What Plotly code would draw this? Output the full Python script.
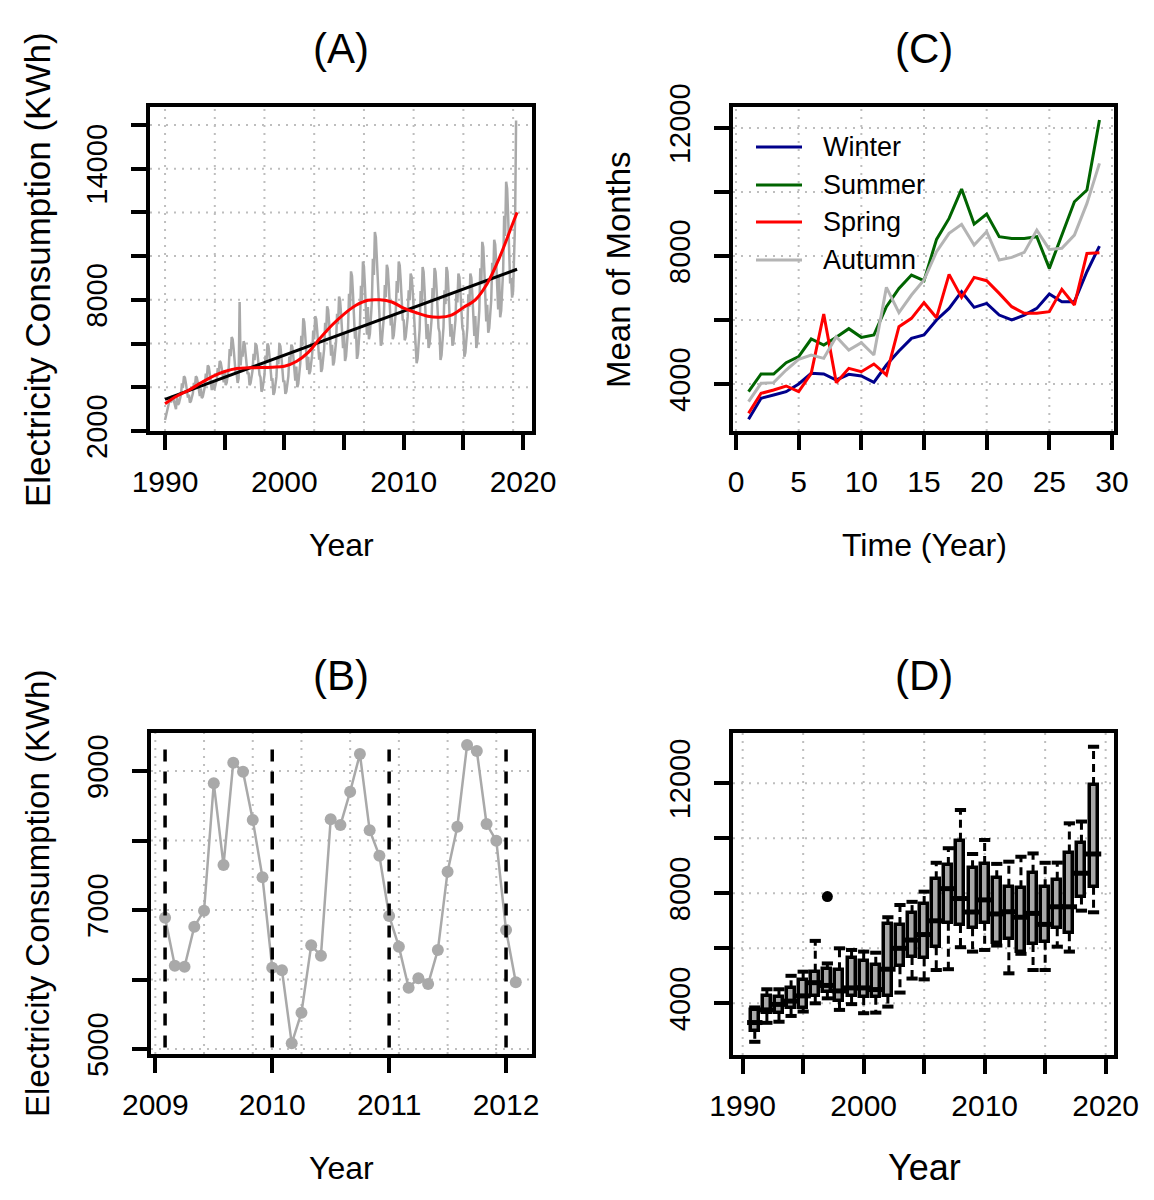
import plotly.graph_objects as go

W, H = 1154, 1200
FONT = "Liberation Sans, Arial, sans-serif"

# ---------------- Panel A data (monthly consumption, Jan 1990 onward) ----------------
series_start_year = 1990
monthly_1990s = [
    2500, 2700, 2900, 3100, 3200, 3500, 3300, 3600, 3550, 3400, 3250, 3000,
    3590, 3200, 3265, 3525, 3655, 4175, 3980, 4500, 4435, 4175, 3850, 3525,
    3660, 3300, 3360, 3600, 3720, 4200, 4020, 4500, 4440, 4200, 3900, 3600,
    3950, 3500, 3575, 3875, 4025, 4625, 4400, 5000, 4925, 4625, 4250, 3875,
    4290, 3900, 3965, 4225, 4355, 4875, 4680, 5200, 5135, 4875, 4550, 4225,
    4760, 4100, 4210, 4650, 4870, 5750, 5420, 6300, 6190, 5750, 5200, 4650,
    4600, 4200, 4400, 7900, 5000, 5600, 5400, 6100, 6000, 5500, 5000, 4600,
    4670, 4100, 4195, 4575, 4765, 5525, 5240, 6000, 5905, 5525, 5050, 4575,
    4460, 3800, 3910, 4350, 4570, 5450, 5120, 6000, 5890, 5450, 4900, 4350,
    4355, 3650, 3770, 4240, 4475, 5410, 5060, 6000, 5880, 5410, 4825, 4240,
]
monthly_2000s = [
    4300, 3700, 3800, 4250, 4500, 5400, 5100, 5950, 5850, 5400, 4850, 4300,
    4945, 4000, 4160, 4790, 5100, 6360, 5890, 7150, 6990, 6360, 5575, 4790,
    5395, 4600, 4730, 5260, 5530, 6590, 6190, 7250, 7120, 6590, 5925, 5260,
    5600, 4700, 4850, 5450, 5750, 6950, 6500, 7700, 7550, 6950, 6200, 5450,
    5945, 5000, 5160, 5790, 6100, 7360, 6890, 8150, 7990, 7360, 6575, 5790,
    6430, 5200, 5405, 6225, 6635, 8275, 7660, 9300, 9095, 8275, 7250, 6225,
    6635, 5300, 5520, 6410, 6860, 8640, 7970, 9750, 9530, 8640, 7525, 6410,
    7670, 6200, 6445, 7425, 7915, 9875, 9140, 11100, 10855, 9875, 8650, 7425,
    7010, 5900, 6085, 6825, 7195, 8675, 8120, 9600, 9415, 8675, 7750, 6825,
    7265, 6200, 6380, 7090, 7440, 8860, 8330, 9750, 9570, 8860, 7975, 7090,
]
monthly_2010s = [
    7065, 6150, 6300, 6910, 7220, 8440, 7980, 9200, 9050, 8440, 7675, 6910,
    6420, 5100, 5320, 6200, 6640, 8400, 7740, 9500, 9280, 8400, 7300, 6200,
    6895, 5800, 5980, 6710, 7080, 8540, 7990, 9450, 9270, 8540, 7625, 6710,
    6525, 5250, 5460, 6310, 6740, 8440, 7800, 9500, 9290, 8440, 7375, 6310,
    6890, 5900, 6065, 6725, 7055, 8375, 7880, 9200, 9035, 8375, 7550, 6725,
    6540, 5400, 5590, 6350, 6730, 8250, 7680, 9200, 9010, 8250, 7300, 6350,
    7255, 5800, 6040, 7010, 7500, 9440, 8710, 10650, 10410, 9440, 8225, 7010,
    7775, 6500, 6710, 7560, 7990, 9690, 9050, 10750, 10540, 9690, 8625, 7560,
    9060, 7200, 7510, 8750, 9370, 11850, 10920, 13400, 13090, 11850, 10300, 8750,
    9000, 8100, 8400, 10200, 11600, 16200,
]
smooth_years = [1990, 1991, 1992, 1993, 1994, 1995, 1996, 1997, 1998, 1999,
                2000, 2001, 2002, 2003, 2004, 2005, 2006, 2007, 2008, 2009,
                2010, 2011, 2012, 2013, 2014, 2015, 2016, 2017, 2018, 2019, 2019.5]
smooth_values = [3250, 3600, 3870, 4200, 4500, 4720, 4860, 4890, 4900, 4920,
                 4960, 5180, 5600, 6250, 6850, 7350, 7750, 7980, 8000, 7900,
                 7620, 7420, 7250, 7200, 7300, 7650, 8000, 8750, 9900, 11300, 12000]
trend_years = [1990, 2019.5]
trend_values = [3450, 9400]

# ---------------- Panel B data (monthly, 2009-2012) ----------------
zoom_start = 2009
zoom_values = [6889, 6199, 6184, 6760, 6990, 8823, 7647, 9120, 8990, 8295, 7470, 6170,
               6132, 5082, 5523, 6492, 6343, 8305, 8223, 8703, 9245, 8147, 7781, 6914,
               6472, 5882, 6017, 5935, 6424, 7551, 8199, 9374, 9288, 8237, 7997, 6712,
               5960]
year_marks = [2009 + 1 / 12, 2010, 2011, 2012]

# ---------------- Panel C data (seasonal means per year) ----------------
season_t = list(range(1, 30))
winter = [2896, 3552, 3656, 3760, 4000, 4333, 4312, 4125, 4302, 4250, 4052, 4593, 5031, 5427,
          5531, 6000, 6364, 6885, 6396, 6521, 6156, 6000, 6156, 6364, 6812, 6573, 6573, 7510, 8312]
summer = [3760, 4312, 4312, 4667, 4854, 5406, 5219, 5458, 5729, 5458, 5531, 6417, 6990, 7406,
          7229, 8521, 9177, 10094, 9000, 9312, 8604, 8552, 8552, 8604, 7615, 8656, 9698, 10062, 12250]
spring = [3083, 3708, 3812, 3937, 3760, 4333, 6187, 4042, 4489, 4385, 4625, 4281, 5792, 6052,
          6542, 6073, 7427, 6708, 7333, 7229, 6833, 6417, 6208, 6208, 6260, 6958, 6469, 8083, 8104]
autumn = [3448, 4021, 4042, 4437, 4771, 4906, 4802, 5479, 5062, 5292, 4906, 7021, 6229, 6781,
          7250, 8135, 8708, 8990, 8344, 8760, 7875, 7958, 8115, 8812, 8208, 8240, 8656, 9646, 10896]
season_names = ["Winter", "Summer", "Spring", "Autumn"]
season_colors = ["#00008B", "#006400", "#FF0000", "#B4B4B4"]

# ---------------- Panel D data (yearly box plots) ----------------
box_years = list(range(1991, 2020))
box_low = [2600, 3290, 3330, 3540, 3700, 4000, 4180, 3760, 3970, 3640, 3660, 3880, 4390, 4900, 4870,
           5210, 5240, 6040, 5880, 5940, 6100, 5090, 5800, 5210, 5210, 6060, 5880, 7370, 7310]
box_q1 = [3000, 3630, 3640, 3820, 3820, 4280, 4400, 4100, 4280, 4220, 4240, 4280, 5350, 5680, 5640,
          6040, 6930, 6850, 6730, 6930, 6180, 6330, 5880, 6160, 6240, 6730, 6550, 7880, 8240]
box_med = [3300, 3760, 3960, 4080, 4270, 4750, 4650, 4450, 4560, 4560, 4500, 5240, 6000, 6300, 6500,
           7000, 8170, 7810, 7320, 7760, 7250, 7330, 7130, 7270, 6870, 7510, 7510, 8730, 9430]
box_q3 = [3760, 4270, 4240, 4545, 4850, 5150, 5230, 5200, 5640, 5540, 5400, 6880, 6850, 7280, 7610,
          8510, 9030, 9910, 8910, 9070, 8550, 8240, 8180, 8750, 8220, 8490, 9480, 9840, 11940]
box_high = [3850, 4510, 4510, 5000, 5150, 6270, 5450, 6000, 5940, 5880, 5840, 7130, 7575, 7690, 8060,
            9110, 9640, 11030, 9430, 9940, 9070, 9150, 9330, 9450, 9110, 9115, 10545, 10610, 13330]
outlier_years = [1997]
outlier_values = [7880]

# ---------------- Figure ----------------
fig = go.Figure()

GRAY = "#A9A9A9"

# Panel A
monthly_values = monthly_1990s + monthly_2000s + monthly_2010s
month_time = [series_start_year + i / 12 for i in range(len(monthly_values))]
fig.add_trace(go.Scatter(x=month_time, y=monthly_values, mode="lines",
                         line=dict(color=GRAY, width=2.5), xaxis="x", yaxis="y"))
fig.add_trace(go.Scatter(x=trend_years, y=trend_values, mode="lines",
                         line=dict(color="black", width=3), xaxis="x", yaxis="y"))
fig.add_trace(go.Scatter(x=smooth_years, y=smooth_values, mode="lines",
                         line=dict(color="red", width=3, shape="spline", smoothing=1.0),
                         xaxis="x", yaxis="y"))

# Panel C
for name, vals, col in zip(season_names, [winter, summer, spring, autumn], season_colors):
    fig.add_trace(go.Scatter(x=season_t, y=vals, mode="lines", name=name,
                             line=dict(color=col, width=3), xaxis="x2", yaxis="y2"))

# Panel B
zoom_time = [zoom_start + (i + 1) / 12 for i in range(len(zoom_values))]
fig.add_trace(go.Scatter(x=zoom_time, y=zoom_values, mode="lines+markers",
                         line=dict(color=GRAY, width=2.5),
                         marker=dict(color=GRAY, size=12), xaxis="x3", yaxis="y3"))

# Panel D
wx, wy = [], []
for yr, lo, q1, q3, hi in zip(box_years, box_low, box_q1, box_q3, box_high):
    wx += [yr, yr, None, yr, yr, None]
    wy += [q3, hi, None, q1, lo, None]
fig.add_trace(go.Scatter(x=wx, y=wy, mode="lines",
                         line=dict(color="black", width=3, dash="8px,5px"),
                         xaxis="x4", yaxis="y4"))
fig.add_trace(go.Bar(x=box_years, y=[b - a for a, b in zip(box_q1, box_q3)], base=box_q1,
                     width=0.66, marker=dict(color=GRAY, line=dict(color="black", width=3.5)),
                     xaxis="x4", yaxis="y4"))
fig.add_trace(go.Scatter(x=box_years, y=box_med, mode="markers",
                         marker=dict(symbol="line-ew", size=11, line=dict(color="black", width=5)),
                         xaxis="x4", yaxis="y4"))
fig.add_trace(go.Scatter(x=box_years + box_years, y=box_low + box_high, mode="markers",
                         marker=dict(symbol="line-ew", size=8, line=dict(color="black", width=4)),
                         xaxis="x4", yaxis="y4"))
fig.add_trace(go.Scatter(x=outlier_years, y=outlier_values, mode="markers",
                         marker=dict(symbol="circle", size=11, color="black"),
                         xaxis="x4", yaxis="y4"))

# ---------------- Axes ----------------
def dom_x(l, r):
    return [l / W, r / W]

def dom_y(t, b):
    return [1 - b / H, 1 - t / H]

def base_axis(size):
    return dict(showline=True, linecolor="black", linewidth=4, mirror=True,
                ticks="outside", ticklen=15, tickwidth=4, tickcolor="black",
                showgrid=False, zeroline=False, tickmode="array", automargin=False,
                tickfont=dict(family=FONT, size=size, color="black"))

def label_list(vals, shown):
    return [str(v) if v in shown else "" for v in vals]

panels = [
    ("x", "y", (150, 107, 532, 431), [1988.74, 2020.75], [2000, 16820],
     [1990, 1995, 2000, 2005, 2010, 2015, 2020], [1990, 2000, 2010, 2020],
     [2000, 4000, 6000, 8000, 10000, 12000, 14000, 16000], [2000, 8000, 14000]),
    ("x2", "y2", (733, 107, 1114, 431), [-0.24, 30.16], [2530, 12660],
     [0, 5, 10, 15, 20, 25, 30], [0, 5, 10, 15, 20, 25, 30],
     [4000, 6000, 8000, 10000, 12000], [4000, 8000, 12000]),
    ("x3", "y3", (151, 733, 532, 1054), [2008.963, 2012.222], [4928, 9547],
     [2009, 2010, 2011, 2012], [2009, 2010, 2011, 2012],
     [5000, 6000, 7000, 8000, 9000], [5000, 7000, 9000]),
    ("x4", "y4", (733, 733, 1114, 1055), [1989.2, 2020.69], [2120, 13830],
     [1990, 1995, 2000, 2005, 2010, 2015, 2020], [1990, 2000, 2010, 2020],
     [4000, 6000, 8000, 10000, 12000], [4000, 8000, 12000]),
]

layout_axes = {}
for xk, yk, (l, t, r, b), xr, yr, xt, xs, yt, ys in panels:
    xa = base_axis(30)
    xa.update(domain=dom_x(l, r), range=xr, anchor=yk, tickvals=xt,
              ticktext=label_list(xt, xs), ticklabelstandoff=6)
    ya = base_axis(29)
    ya.update(domain=dom_y(t, b), range=yr, anchor=xk, tickvals=yt,
              ticktext=label_list(yt, ys), tickangle=-90, ticklabelstandoff=12)
    layout_axes["xaxis" + xk[1:]] = xa
    layout_axes["yaxis" + yk[1:]] = ya

# ---------------- Dotted grids ----------------
grid_v = {
    "x": [1990, 1994.17, 1998.33, 2002.5, 2006.67, 2010.83, 2015, 2019.17],
    "x2": [0, 5, 10, 15, 20, 25, 30],
    "x3": [2009, 2009 + 5 / 12, 2009 + 10 / 12, 2010.25, 2010 + 8 / 12, 2011 + 1 / 12, 2011.5, 2011 + 11 / 12],
    "x4": [1990, 1995, 2000, 2005, 2010, 2015, 2020],
}
grid_h = {
    "y": [4000, 6000, 8000, 10000, 12000, 14000, 16000],
    "y2": [4000, 6000, 8000, 10000, 12000],
    "y3": [5000, 6000, 7000, 8000, 9000],
    "y4": [4000, 6000, 8000, 10000, 12000],
}
grid_line = dict(color="#BEBEBE", width=2, dash="2px,6px")
shapes = []
for (xk, yk, *_rest) in panels:
    for v in grid_v[xk]:
        shapes.append(dict(type="line", xref=xk, yref=yk + " domain", x0=v, x1=v, y0=0, y1=1,
                           line=grid_line, layer="below"))
    for v in grid_h[yk]:
        shapes.append(dict(type="line", xref=xk + " domain", yref=yk, x0=0, x1=1, y0=v, y1=v,
                           line=grid_line, layer="below"))

# Panel B dashed year markers
for v in year_marks:
    shapes.append(dict(type="line", xref="x3", yref="y3 domain", x0=v, x1=v, y0=0.02, y1=0.96,
                       line=dict(color="black", width=3.5, dash="12px,10px"), layer="above"))

# Legend for panel C
annotations = []
legend_rows = [147, 185, 222, 260]
for name, col, row in zip(season_names, season_colors, legend_rows):
    shapes.append(dict(type="line", xref="paper", yref="paper",
                       x0=756 / W, x1=802 / W, y0=1 - row / H, y1=1 - row / H,
                       line=dict(color=col, width=3)))
    annotations.append(dict(text=name, xref="paper", yref="paper", x=821 / W, y=1 - row / H,
                            xanchor="left", yanchor="middle", showarrow=False,
                            font=dict(family=FONT, size=27, color="black")))

def add_text(text, xpx, ypx, size, angle=0):
    annotations.append(dict(text=text, xref="paper", yref="paper", x=xpx / W, y=1 - ypx / H,
                            xanchor="center", yanchor="middle", showarrow=False, textangle=angle,
                            font=dict(family=FONT, size=size, color="black")))

add_text("(A)", 341, 48, 42)
add_text("(C)", 924, 48, 42)
add_text("(B)", 341, 675, 42)
add_text("(D)", 924, 675, 42)
add_text("Year", 341, 545, 32)
add_text("Time (Year)", 924, 545, 32)
add_text("Year", 341, 1168, 32)
add_text("Year", 924, 1167, 36)
add_text("Electricity Consumption (KWh)", 37, 270, 35, -90)
add_text("Electricity Consumption (KWh)", 37, 894, 33, -90)
add_text("Mean of Months", 618, 270, 33, -90)

fig.update_layout(
    width=W, height=H, margin=dict(l=0, r=0, t=0, b=0, autoexpand=False),
    paper_bgcolor="white", plot_bgcolor="white", showlegend=False,
    shapes=shapes, annotations=annotations, bargap=0,
    **layout_axes,
)

fig.write_html("out.html")
